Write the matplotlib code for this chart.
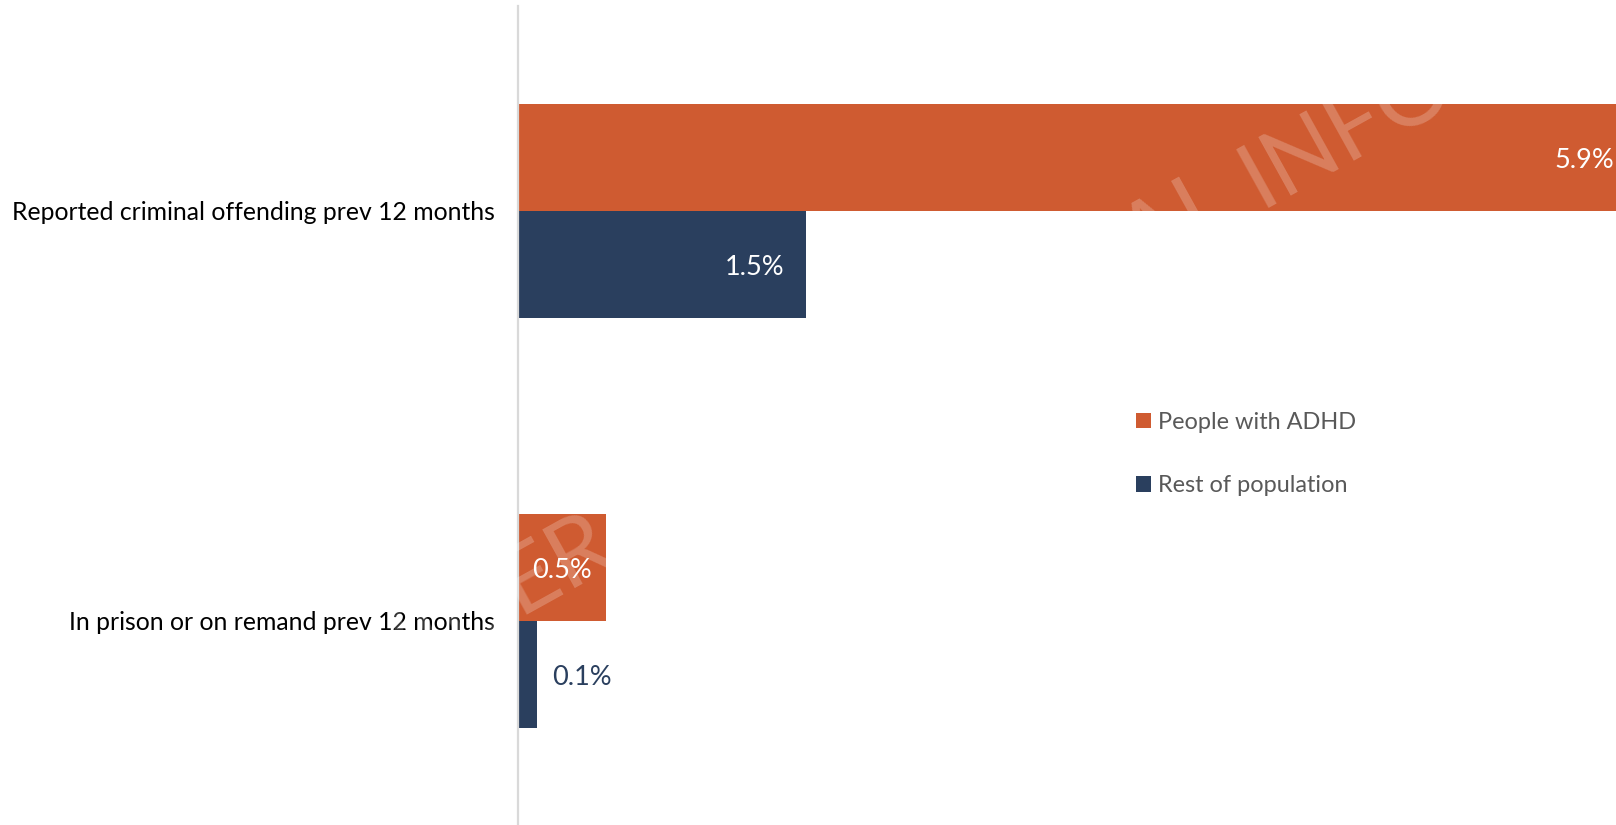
import matplotlib
matplotlib.use("Agg")
import matplotlib.pyplot as plt
from matplotlib.patches import Patch
from matplotlib.transforms import offset_copy

plt.rcParams['font.family'] = ['Lato', 'DejaVu Sans']

categories = ["Reported criminal offending prev 12 months",
              "In prison or on remand prev 12 months"]
series_names = ["People with ADHD", "Rest of population"]
adhd = [5.9, 0.46]
rest = [1.5, 0.1]

ORANGE = "#CF5B31"
BLUE = "#2A3F5E"

W, H = 1616, 825
fig = plt.figure(figsize=(W / 100, H / 100), dpi=100)
ax = fig.add_axes([518 / W, -1 / H, 1 - 518 / W, 820 / H])

y = list(range(len(categories)))
h = 0.261
ax.barh([v - h / 2 for v in y], adhd, height=h, color=ORANGE, zorder=2)
ax.barh([v + h / 2 for v in y], rest, height=h, color=BLUE, zorder=2)

xmax = (W - 518) / 192.0
ax.set_xlim(0, xmax)
ax.set_ylim(1.5, -0.5)

for s in ["top", "right", "bottom"]:
    ax.spines[s].set_visible(False)
ax.spines["left"].set_color("#D9D9D9")
ax.spines["left"].set_linewidth(1.6)
ax.set_xticks([])
ax.set_yticks(y)
ax.set_yticklabels(categories, fontsize=17.8, color="#000000")
ax.tick_params(axis="y", length=0, pad=17)

# data labels
lbl_fs = 19.5
px = xmax / (W - 518)
down = offset_copy(ax.transData, fig=fig, x=0, y=-3, units="dots")
ax.text(min(adhd[0], xmax) - 2 * px, y[0] - h / 2, f"{adhd[0]:.1f}%", ha="right",
        va="center", color="white", fontsize=lbl_fs, zorder=5, transform=down)
ax.text(rest[0] - 22 * px, y[0] + h / 2, f"{rest[0]:.1f}%", ha="right",
        va="center", color="white", fontsize=lbl_fs, zorder=5, transform=down)
ax.text(adhd[1] / 2, y[1] - h / 2, f"{adhd[1]:.1f}%", ha="center",
        va="center", color="white", fontsize=lbl_fs, zorder=5, transform=down)
ax.text(rest[1] + 15 * px, y[1] + h / 2, f"{rest[1]:.1f}%", ha="left",
        va="center", color=BLUE, fontsize=lbl_fs, zorder=5, transform=down)

# watermark (faint, visible only over bars)
theta = 29
wm_kw = dict(rotation=theta, rotation_mode="anchor", va="baseline",
             color="white", alpha=0.22, fontsize=68, zorder=3,
             transform=None)
ax_x, ax_y = 1260, H - 208
ax.text(ax_x, ax_y, "PROVIDER CONFIDENTIAL ", ha="right", **wm_kw)
ax.text(ax_x, ax_y, "INFO", ha="left", **wm_kw)

# legend
handles = [Patch(facecolor=ORANGE, edgecolor="none"),
           Patch(facecolor=BLUE, edgecolor="none")]
leg = fig.legend(handles, series_names, loc="upper left",
                 bbox_to_anchor=(1124 / W, 1 - 400 / H), frameon=False,
                 fontsize=16.9, handlelength=0.65, handleheight=0.65,
                 handletextpad=0.3, labelspacing=1.8, borderpad=0)
for t in leg.get_texts():
    t.set_color("#595959")

fig.savefig("out.png", dpi=100)
